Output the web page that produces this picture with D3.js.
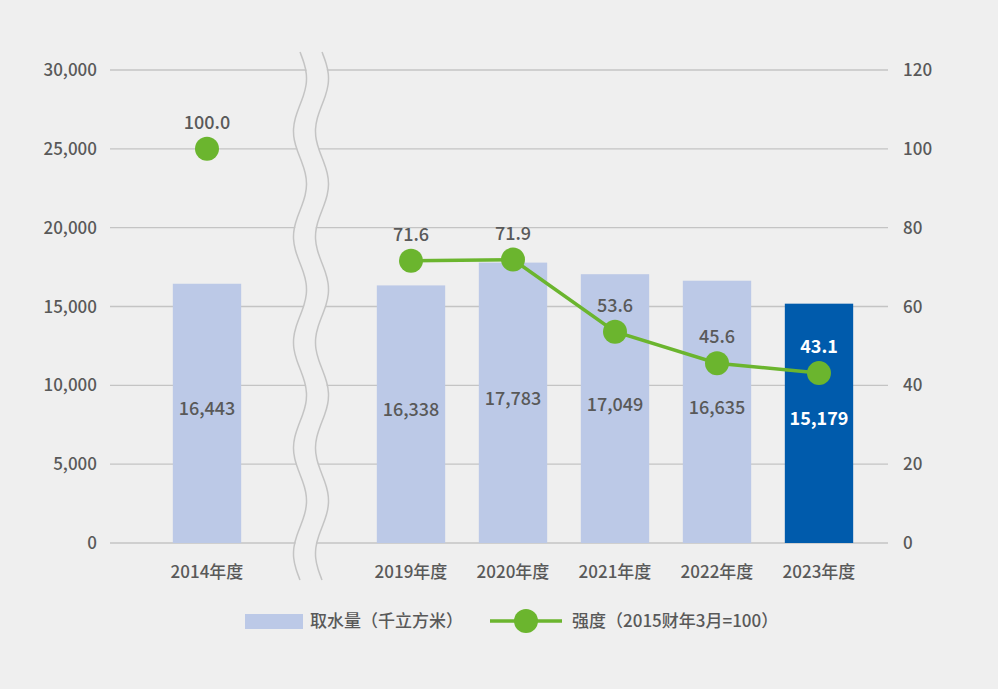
<!DOCTYPE html>
<html><head><meta charset="utf-8">
<script src="https://cdn.jsdelivr.net/npm/d3@7"></script>
<style>body{margin:0;background:#efefef}svg{display:block;font-family:"Noto Sans CJK SC","Noto Sans",sans-serif;font-weight:500}</style>
</head><body><svg id="c" width="998" height="689"></svg>
<script>
const categories = ["2014年度","2019年度","2020年度","2021年度","2022年度","2023年度"];
const intake = [16443,16338,17783,17049,16635,15179];
const intensity = [100.0,71.6,71.9,53.6,45.6,43.1];
const leftTicks = [0,5000,10000,15000,20000,25000,30000];
const rightTicks = [0,20,40,60,80,100,120];

const svg = d3.select("#c");
const W=998,H=689, L=110, R=888, T=70, B=543;
svg.append("rect").attr("width",W).attr("height",H).attr("fill","#efefef");
const x = d3.scaleBand().domain(["2014年度","gap","2019年度","2020年度","2021年度","2022年度","2023年度"]).range([156,870]).paddingInner(0.33).paddingOuter(0.165);
const y = d3.scaleLinear().domain([0,30000]).range([B,T]);
const y2 = d3.scaleLinear().domain([0,120]).range([B,T]);
const txt="#595959";
const g=svg.append("g");
g.selectAll(".grid").data(leftTicks).join("line").attr("x1",L).attr("x2",R)
 .attr("y1",d=>y(d)).attr("y2",d=>y(d)).attr("stroke","#c4c4c4").attr("stroke-width",1.3);
g.selectAll(".lt").data(leftTicks).join("text").attr("x",97).attr("y",d=>y(d)+6).attr("text-anchor","end")
 .attr("fill",txt).attr("font-size",17).text(d=>d3.format(",")(d));
g.selectAll(".rt").data(rightTicks).join("text").attr("x",903).attr("y",d=>y2(d)+6)
 .attr("fill",txt).attr("font-size",17).text(d=>d);
// break
const wave=d3.line().curve(d3.curveBasis);
const wpts=c=>d3.range(0,49).map(i=>[c+Math.sin(i/48*Math.PI*10)*7,52+i*(580-52)/48]);
g.append("path").attr("d",wave(wpts(311))).attr("fill","none").attr("stroke","#efefef").attr("stroke-width",20);
[300,322].forEach(b=>{g.append("path").attr("d",wave(wpts(b))).attr("fill","none").attr("stroke","#c4c4c4").attr("stroke-width",1.5);});
// bars
const bw=x.bandwidth();
categories.forEach((c,i)=>{
 const last=i===categories.length-1;
 g.append("rect").attr("x",x(c)).attr("y",y(intake[i])).attr("width",bw).attr("height",B-y(intake[i])).attr("fill",last?"#005bac":"#bcc9e7");
 g.append("text").attr("x",x(c)+bw/2).attr("y",(y(intake[i])+B)/2+2).attr("text-anchor","middle")
  .attr("fill",last?"#fff":txt).attr("font-size",18).attr("font-weight",last?"bold":"500").text(d3.format(",")(intake[i]));
 g.append("text").attr("x",x(c)+bw/2).attr("y",578).attr("text-anchor","middle").attr("fill",txt).attr("font-size",17).text(c);
});
// line
const lineData=categories.map((c,i)=>({c,v:intensity[i]})).slice(1);
g.append("path").attr("d",d3.line().x(d=>x(d.c)+bw/2).y(d=>y2(d.v))(lineData)).attr("fill","none").attr("stroke","#6bb52e").attr("stroke-width",3.5);
categories.forEach((c,i)=>{
 const last=i===categories.length-1;
 g.append("circle").attr("cx",x(c)+bw/2).attr("cy",y2(intensity[i])).attr("r",12).attr("fill","#6bb52e");
 g.append("text").attr("x",x(c)+bw/2).attr("y",y2(intensity[i])-20).attr("text-anchor","middle")
  .attr("fill",last?"#fff":txt).attr("font-size",18).attr("font-weight",last?"bold":"500").text(intensity[i].toFixed(1));
});
// legend
g.append("rect").attr("x",245).attr("y",614).attr("width",58).attr("height",15).attr("fill","#bcc9e7");
g.append("text").attr("x",310).attr("y",627).attr("fill",txt).attr("font-size",17).text("取水量（千立方米）");
g.append("line").attr("x1",490).attr("x2",562).attr("y1",621).attr("y2",621).attr("stroke","#6bb52e").attr("stroke-width",3.5);
g.append("circle").attr("cx",526).attr("cy",621).attr("r",12).attr("fill","#6bb52e");
g.append("text").attr("x",572).attr("y",627).attr("fill",txt).attr("font-size",17).text("强度（2015财年3月=100）");
</script></body></html>
